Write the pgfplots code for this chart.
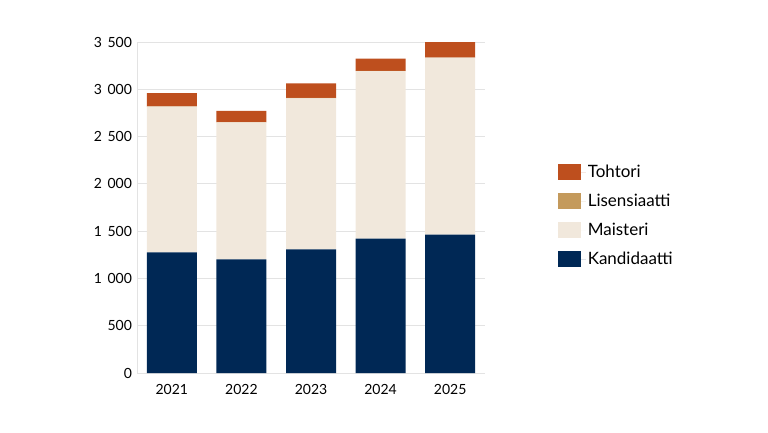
\documentclass[border=0pt]{standalone}
\usepackage{pgfplots}
\pgfplotsset{compat=1.18}
\usepackage{fontspec}
\setmainfont{Lato}
\definecolor{kand}{HTML}{002855}
\definecolor{mais}{HTML}{F1E8DC}
\definecolor{lis}{HTML}{C49A5C}
\definecolor{toht}{HTML}{BE4F1E}
\definecolor{gridc}{HTML}{E3E3E3}
\begin{document}
\begin{tikzpicture}[x=1pt,y=1pt]
\path (0,0) rectangle (768,432);
\begin{axis}[
    at={(137pt,59pt)}, anchor=south west,
    scale only axis, width=348pt, height=331pt,
    ybar stacked, bar width=50pt,
    xmin=-0.5, xmax=4.5, ymin=0, ymax=3500,
    xtick=data, xticklabels={2021,2022,2023,2024,2025},
    ytick={0,500,1000,1500,2000,2500,3000,3500},
    ymajorgrids, grid style={draw=gridc, line width=0.8pt},
    axis x line*=bottom, axis y line*=left,
    axis line style={draw=gridc, line width=0.8pt},
    major tick length=0pt,
    /pgf/number format/assume math mode=true,
    /pgf/number format/1000 sep={\hspace{5.5pt}},
    ticklabel style={font=\fontsize{14}{16}\selectfont},
    xticklabel style={yshift=-8pt},
    yticklabel style={xshift=-1.5pt},
    legend style={at={(1.2,0.475)}, anchor=west, draw=none,
        font=\fontsize{17}{20}\selectfont, row sep=11pt,
        cells={anchor=west}},
    legend image code/.code={\fill[#1] (0pt,-8pt) rectangle (23pt,8pt);
        \path (0pt,0pt) -- (28pt,0pt);},
    reverse legend,
]
% Kandidaatti
\addplot[fill=kand, draw=none] coordinates {(0,1276) (1,1202) (2,1308) (3,1420) (4,1463)};
% Maisteri
\addplot[fill=mais, draw=none] coordinates {(0,1540) (1,1449) (2,1597) (3,1773) (4,1871)};
% Lisensiaatti
\addplot[fill=lis, draw=none] coordinates {(0,3) (1,2) (2,3) (3,2) (4,2)};
% Tohtori
\addplot[fill=toht, draw=none] coordinates {(0,141) (1,119) (2,154) (3,130) (4,166)};
\legend{Kandidaatti,Maisteri,Lisensiaatti,Tohtori}
\end{axis}
\end{tikzpicture}
\end{document}
